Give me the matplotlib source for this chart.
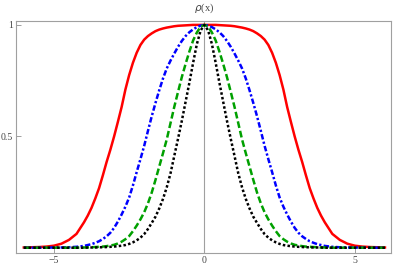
import numpy as np
import matplotlib
matplotlib.use("Agg")
import matplotlib.pyplot as plt

# ===================== data (right half; curves are symmetric) =====================
x_half = [0.0, 0.125, 0.25, 0.375, 0.5, 0.625, 0.75, 0.875, 1.0, 1.125, 1.25, 1.375, 1.5,
          1.625, 1.75, 1.875, 2.0, 2.125, 2.25, 2.375, 2.5, 2.625, 2.75, 2.875, 3.0,
          3.125, 3.25, 3.375, 3.5, 3.625, 3.75, 3.875, 4.0,
          4.25, 4.5, 4.75, 5.0, 5.25, 5.5, 5.75, 6.0]

red_half = [1.0, 1.0, 1.0, 1.0, 0.999, 0.998, 0.997, 0.996, 0.994, 0.991, 0.988, 0.984, 0.979,
            0.972, 0.962, 0.95, 0.934, 0.91, 0.875, 0.83, 0.775, 0.71, 0.632, 0.565, 0.50,
            0.44, 0.385, 0.325, 0.268, 0.222, 0.18, 0.145, 0.115,
            0.063, 0.036, 0.019, 0.010, 0.006, 0.004, 0.003, 0.002]
blue_half = [1.0, 0.997, 0.99, 0.98, 0.967, 0.95, 0.928, 0.902, 0.872, 0.84, 0.805, 0.76, 0.707,
             0.65, 0.59, 0.525, 0.458, 0.398, 0.34, 0.28, 0.226, 0.185, 0.15, 0.118, 0.09,
             0.068, 0.052, 0.04, 0.03, 0.023, 0.017, 0.013, 0.009,
             0.005, 0.003, 0.002, 0.002, 0.001, 0.001, 0.001, 0.001]
green_half = [1.0, 0.992, 0.966, 0.93, 0.88, 0.825, 0.766, 0.70, 0.633, 0.56, 0.487, 0.425, 0.365,
              0.305, 0.248, 0.20, 0.16, 0.128, 0.10, 0.075, 0.053, 0.039, 0.028, 0.02, 0.014,
              0.011, 0.008, 0.006, 0.005, 0.004, 0.003, 0.002, 0.002,
              0.001, 0.001, 0.001, 0.001, 0.001, 0.001, 0.001, 0.001]
black_half = [1.0, 0.975, 0.914, 0.83, 0.74, 0.655, 0.57, 0.49, 0.413, 0.335, 0.272, 0.22, 0.177,
              0.14, 0.112, 0.085, 0.062, 0.046, 0.034, 0.025, 0.018, 0.013, 0.010, 0.008, 0.006,
              0.005, 0.004, 0.003, 0.003, 0.002, 0.002, 0.002, 0.001,
              0.001, 0.001, 0.001, 0.001, 0.001, 0.001, 0.001, 0.001]

x_ticks = [-5, 0, 5]
x_tick_labels = ["\u22125", "0", "5"]
y_ticks = [0.5, 1]
y_tick_labels = ["0.5", "1"]


def mirror(v, sign=1):
    v = np.asarray(v, dtype=float)
    return np.concatenate([sign * v[:0:-1], v])


x = mirror(x_half, -1)

# ===================== figure =====================
fig = plt.figure(figsize=(3.94, 2.68), dpi=100)
ax = fig.add_axes([0.0406, 0.0549, 0.9525, 0.868])

frame_col = "#a0a0a0"
ax.axvline(0, color=frame_col, lw=0.8, zorder=1)

ax.plot(x, mirror(red_half), color="#ff0000", lw=1.8, zorder=3)
ax.plot(x, mirror(blue_half), color="#0000ff", lw=1.8, dashes=(2.2, 0.9, 0.9, 0.9), zorder=4)
ax.plot(x, mirror(green_half), color="#00a000", lw=1.8, dashes=(2.7, 1.2), zorder=5)
ax.plot(x, mirror(black_half), color="black", lw=1.8, dashes=(1.0, 0.9), zorder=6)

ax.set_xlim(-6.26, 6.21)
ax.set_ylim(-0.024, 1.019)

for s in ax.spines.values():
    s.set_color(frame_col)
    s.set_linewidth(0.8)

ax.set_xticks(x_ticks)
ax.set_xticklabels(x_tick_labels)
ax.set_yticks(y_ticks)
ax.set_yticklabels(y_tick_labels)
ax.tick_params(direction="in", length=3.5, width=0.7, color=frame_col,
               labelsize=7, labelcolor="#444444", pad=2)
for lab in ax.get_xticklabels() + ax.get_yticklabels():
    lab.set_family("Liberation Serif")

fig.text(204.5 / 394, 1 - 8.5 / 268, r"$\rho$(x)", ha="center", va="center",
         fontsize=7.5, color="#444444", family="Liberation Serif")

fig.savefig("out.png", dpi=100)
